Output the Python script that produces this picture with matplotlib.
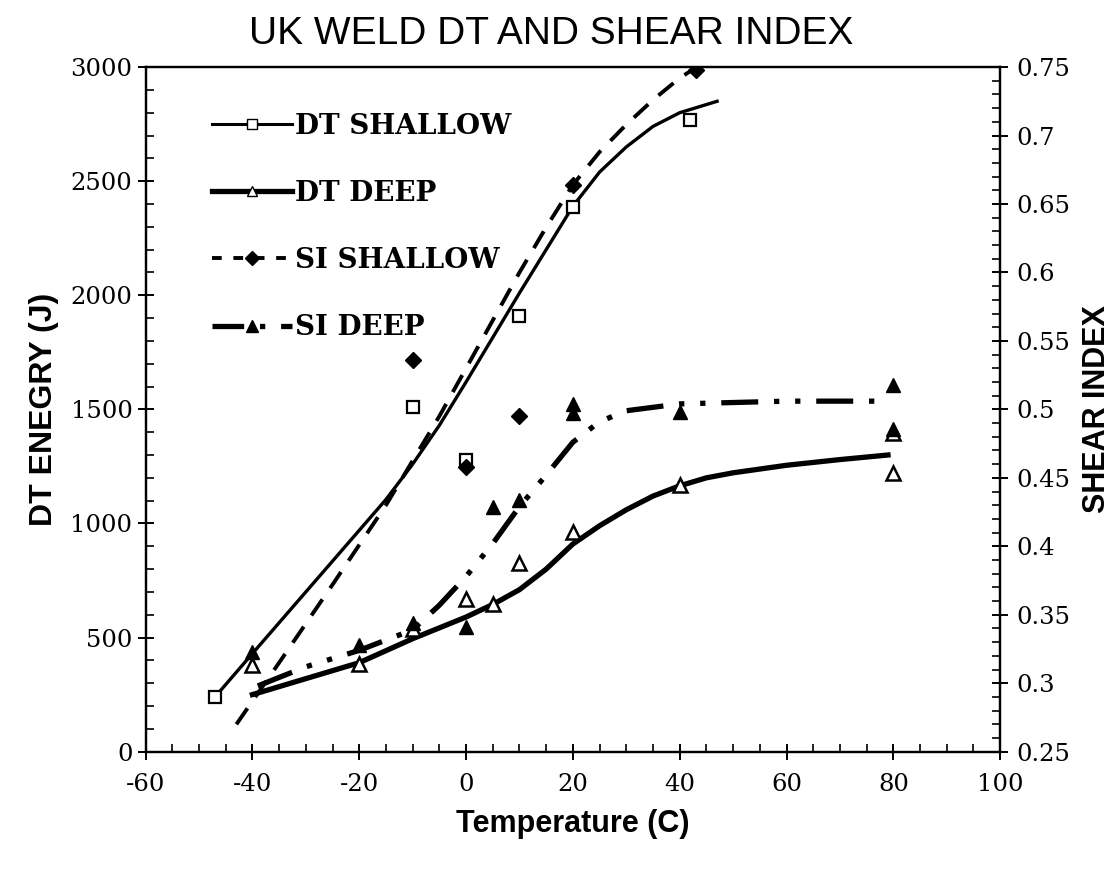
import matplotlib
matplotlib.use("Agg")
import matplotlib.pyplot as plt
from matplotlib.ticker import MultipleLocator, FuncFormatter
import numpy as np

plt.rcParams["axes.unicode_minus"] = False

# measured points (temperature in C)
dt_shallow_t = [-47, -10, 0, 10, 20, 42]
dt_shallow_j = [240, 1510, 1276, 1908, 2387, 2770]
dt_deep_t = [-40, -20, -10, 0, 5, 10, 20, 40, 80, 80]
dt_deep_j = [378, 382, 536, 670, 647, 828, 963, 1168, 1396, 1220]
si_shallow_t = [-10, 0, 10, 20, 43]
si_shallow_v = [0.536, 0.458, 0.495, 0.664, 0.748]
si_deep_t = [-40, -20, -10, 0, 5, 10, 20, 20, 40, 80, 80]
si_deep_v = [0.323, 0.328, 0.344, 0.341, 0.429, 0.434, 0.504, 0.497, 0.498, 0.518, 0.486]

# fitted curves
dt_shallow_fit_t = [-47, -40, -30, -20, -15, -10, -5, 0, 5, 10, 15, 20, 25, 30, 35, 40, 47]
dt_shallow_fit_j = [240, 430, 700, 970, 1105, 1260, 1430, 1620, 1815, 2010, 2200, 2390, 2540, 2650, 2740, 2800, 2850]
dt_deep_fit_t = [-40, -30, -20, -10, 0, 5, 10, 15, 20, 25, 30, 35, 40, 45, 50, 60, 70, 79]
dt_deep_fit_j = [250, 320, 390, 495, 590, 645, 710, 800, 910, 990, 1060, 1120, 1165, 1200, 1222, 1255, 1280, 1300]
si_shallow_fit_t = [-43, -35, -25, -15, -5, 5, 10, 15, 20, 25, 30, 35, 40, 44]
si_shallow_fit_v = [0.27, 0.315, 0.372, 0.43, 0.495, 0.565, 0.6, 0.633, 0.664, 0.688, 0.708, 0.726, 0.742, 0.752]
si_deep_fit_t = [-39, -30, -20, -10, -5, 0, 5, 10, 15, 20, 25, 30, 40, 50, 60, 70, 79]
si_deep_fit_v = [0.298, 0.312, 0.324, 0.339, 0.357, 0.378, 0.402, 0.429, 0.452, 0.476, 0.491, 0.499, 0.504, 0.505, 0.506, 0.506, 0.506]

serif = ["DejaVu Serif"]
sans = ["Liberation Sans Narrow", "Liberation Sans", "DejaVu Sans"]

fig = plt.figure(figsize=(11.2, 8.71), dpi=100)
ax = fig.add_axes([0.130, 0.137, 0.763, 0.786])
ax2 = ax.twinx()

k = "black"
# DT shallow
ax.plot(dt_shallow_fit_t, dt_shallow_fit_j, color=k, lw=2.4)
ax.plot(dt_shallow_t, dt_shallow_j, ls="none", marker="s", ms=9, mfc="white", mec=k, mew=1.6)
# DT deep
ax.plot(dt_deep_fit_t, dt_deep_fit_j, color=k, lw=3.8)
ax.plot(dt_deep_t, dt_deep_j, ls="none", marker="^", ms=10, mfc="white", mec=k, mew=1.8)
# SI shallow
ax2.plot(si_shallow_fit_t, si_shallow_fit_v, color=k, lw=2.8, ls=(0, (5, 3.5)))
ax2.plot(si_shallow_t, si_shallow_v, ls="none", marker="D", ms=8, color=k)
# SI deep
ax2.plot(si_deep_fit_t, si_deep_fit_v, color=k, lw=3.8, ls=(0, (7, 3, 1, 3, 1, 3)))
ax2.plot(si_deep_t, si_deep_v, ls="none", marker="^", ms=10, color=k)

# legend handles
h1, = ax.plot([], [], color=k, lw=2.2, marker="s", ms=7, mfc="white", mec=k)
h2, = ax.plot([], [], color=k, lw=3.8, marker="^", ms=7, mfc="white", mec=k)
h3, = ax.plot([], [], color=k, lw=2.8, ls=(0, (2.5, 3)), marker="D", ms=7)
h4, = ax.plot([], [], color=k, lw=3.8, ls=(0, (6, 3, 1, 3)), marker="^", ms=9)
leg = ax.legend([h1, h2, h3, h4], ["DT SHALLOW", "DT DEEP", "SI SHALLOW", "SI DEEP"],
                loc="upper left", bbox_to_anchor=(0.048, 0.97), frameon=False,
                handlelength=2.9, handletextpad=0.1, labelspacing=1.45,
                prop={"family": serif, "weight": "bold", "size": 20})

ax.set_xlim(-60, 100)
ax.set_ylim(0, 3000)
ax2.set_ylim(0.25, 0.75)
ax.xaxis.set_major_locator(MultipleLocator(20))
ax.xaxis.set_minor_locator(MultipleLocator(5))
ax.yaxis.set_major_locator(MultipleLocator(500))
ax.yaxis.set_minor_locator(MultipleLocator(100))
ax2.yaxis.set_major_locator(MultipleLocator(0.05))
ax2.yaxis.set_minor_locator(MultipleLocator(0.01))
ax2.yaxis.set_major_formatter(FuncFormatter(lambda v, p: f"{v:.2f}".rstrip("0")))

for a in (ax, ax2):
    for s in a.spines.values():
        s.set_linewidth(1.6)
    a.tick_params(which="major", direction="inout", length=12, width=1.4, labelsize=17.5)
    a.tick_params(which="minor", direction="in", length=6, width=1.2)
    for lab in a.get_xticklabels() + a.get_yticklabels():
        lab.set_family(serif)
ax.tick_params(axis="x", pad=9)
ax2.tick_params(axis="y", pad=6)

ax.set_xlabel("Temperature (C)", family=sans, weight="bold", fontsize=22, labelpad=10)
ax.set_ylabel("DT ENEGRY (J)", family=sans, weight="bold", fontsize=23, labelpad=8)
ax2.set_ylabel("SHEAR INDEX", family=sans, weight="bold", fontsize=22, labelpad=8)
fig.suptitle("UK WELD DT AND SHEAR INDEX", family=["Liberation Sans", "DejaVu Sans"],
             fontsize=28, x=0.492, y=0.982)

fig.savefig("out.png", dpi=100)
